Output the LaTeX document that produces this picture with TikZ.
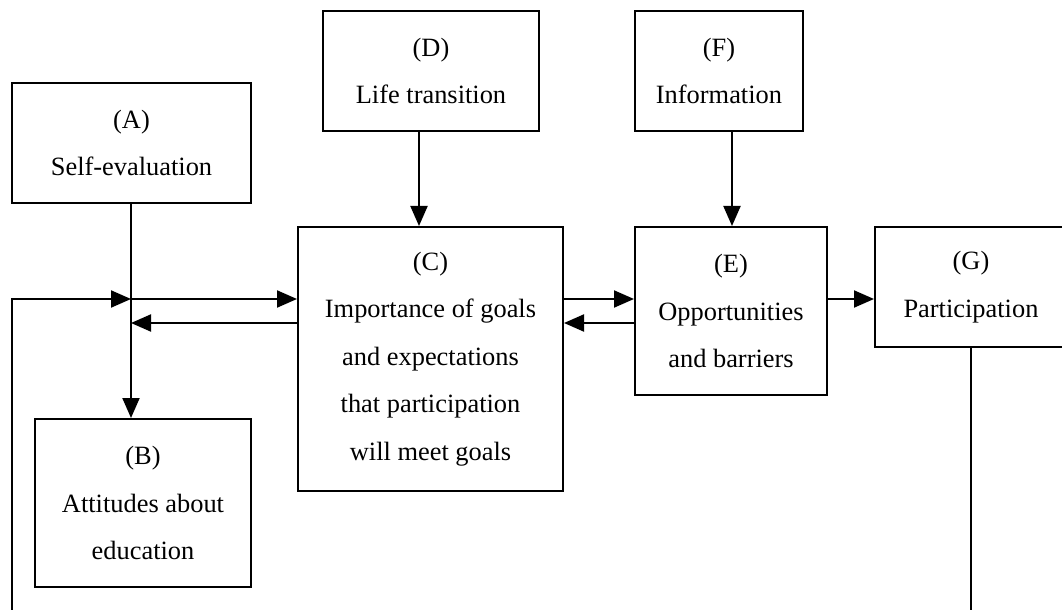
\documentclass[tikz,border=0pt]{standalone}
\usepackage{fontspec}
\setmainfont{Liberation Serif}
\usetikzlibrary{arrows.meta}
\begin{document}
\begin{tikzpicture}[x=0.5pt,y=-0.5pt,
  box/.style={draw,line width=1pt,inner sep=0pt,align=center,
    font=\fontsize{13.2}{23.75}\selectfont},
  conn/.style={line width=1pt},
  arr/.style={conn,-{Triangle[length=10pt,width=8.5pt]}}]
\clip (0,0) rectangle (1062,610);
\useasboundingbox (0,0) rectangle (1062,610);
\node[box,minimum width=239pt*0.5,minimum height=120pt*0.5] (A) at (131.5,143) {(A)\\Self-evaluation};
\node[box,minimum width=216pt*0.5,minimum height=168pt*0.5] (B) at (143,503) {(B)\\Attitudes about\\education};
\node[box,minimum width=265pt*0.5,minimum height=264pt*0.5] (C) at (430.5,359) {(C)\\Importance of goals\\and expectations\\that participation\\will meet goals};
\node[box,minimum width=216pt*0.5,minimum height=120pt*0.5] (D) at (431,71) {(D)\\Life transition};
\node[box,minimum width=192pt*0.5,minimum height=168pt*0.5] (E) at (731,311) {(E)\\Opportunities\\and barriers};
\node[box,minimum width=168pt*0.5,minimum height=120pt*0.5] (F) at (719,71) {(F)\\Information};
\node[box,minimum width=192pt*0.5,minimum height=120pt*0.5] (G) at (971,287) {(G)\\Participation};
\coordinate (ax) at (131,0);
\coordinate (dx) at (419,0);
\coordinate (fx) at (732,0);
\coordinate (gx) at (971,0);
\coordinate (J1) at (131,299);
\coordinate (J2) at (131,323);
\coordinate (r1) at (0,299);
\coordinate (r2) at (0,323);
\coordinate (L0) at (12,611);
\coordinate (L1) at (12,299);
\coordinate (Gend) at (971,611);
% A -> B
\draw[arr] (A.south -| ax) -- (B.north -| ax);
% D -> C, F -> E
\draw[arr] (D.south -| dx) -- (C.north -| dx);
\draw[arr] (F.south -| fx) -- (E.north -| fx);
% C <-> E, E -> G
\draw[arr] (C.east |- r1) -- (E.west |- r1);
\draw[arr] (E.west |- r2) -- (C.east |- r2);
\draw[arr] (E.east |- r1) -- (G.west |- r1);
% junction <-> C
\draw[arr] (J1) -- (C.west |- r1);
\draw[arr] (C.west |- r2) -- (J2);
% feedback lines
\draw[arr] (L0) -- (L1) -- (J1);
\draw[conn] (G.south -| gx) -- (Gend);
\end{tikzpicture}
\end{document}
